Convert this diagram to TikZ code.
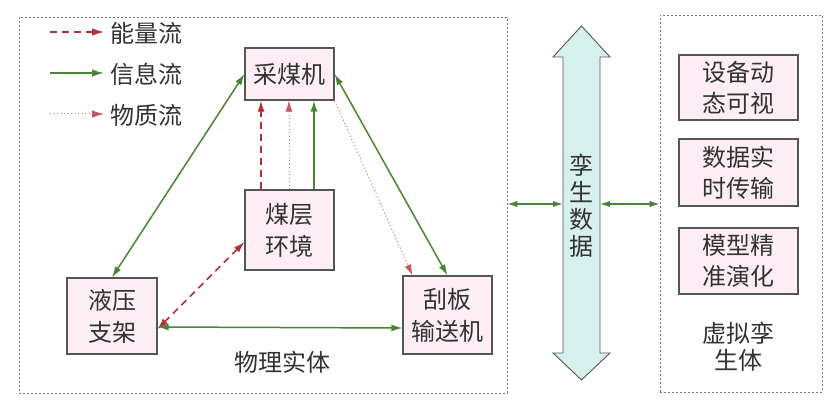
\documentclass[tikz,border=0pt]{standalone}
\usepackage{fontspec}
\setmainfont{Noto Sans CJK SC}
\usetikzlibrary{arrows.meta}
\definecolor{flowgreen}{RGB}{75,132,55}
\definecolor{flowred}{RGB}{180,45,55}
\definecolor{dotline}{RGB}{165,130,130}
\definecolor{dottip}{RGB}{200,85,95}
\definecolor{boxfill}{RGB}{253,238,245}
\definecolor{boxline}{RGB}{85,85,85}
\definecolor{txt}{RGB}{50,50,50}
\definecolor{cyanfill}{RGB}{214,240,238}
\tikzset{
  ent/.style={draw=boxline, line width=1.1pt, fill=boxfill, text=txt, inner sep=0pt,
    font=\fontsize{24}{32}\selectfont, align=center},
  frame/.style={draw=boxline!80, line width=0.6pt, dash pattern=on 2pt off 2pt, inner sep=0pt},
  lab/.style={text=txt, font=\fontsize{24}{29}\selectfont, align=center, inner sep=0pt},
  energy/.style={draw=flowred, line width=1.5pt, dash pattern=on 7pt off 5pt},
  info/.style={draw=flowgreen, line width=1.5pt},
  matter/.style={draw=dotline, line width=1pt, dash pattern=on 1pt off 2.5pt},
  tip/.tip={Latex[length=11pt,width=7pt]},
  dtip/.tip={Latex[length=11pt,width=7pt,color=dottip]},
}
\begin{document}
\begin{tikzpicture}[x=1pt,y=-1pt]
\useasboundingbox (0,0) rectangle (839,404);
\fill[white] (0,0) rectangle (839,404);
% frames
\node[frame, minimum width=488pt, minimum height=376pt] (lframe) at (263,205) {};
\node[frame, minimum width=162pt, minimum height=377pt] (rframe) at (741,203.5) {};
% legend
\coordinate (e1) at (50,32); \coordinate (e2) at (104,32);
\coordinate (i1) at (50,73); \coordinate (i2) at (104,73);
\coordinate (m1) at (50,114); \coordinate (m2) at (104,114);
\draw[energy, -{Latex[length=12pt,width=7.5pt]}] (e1) -- (e2);
\draw[info, -{Latex[length=12pt,width=7.5pt]}] (i1) -- (i2);
\draw[matter, -{Latex[length=12pt,width=7.5pt,color=dottip]}] (m1) -- (m2);
\node[lab, anchor=west] (le) at (110,33) {能量流};
\node[lab, anchor=west] (li) at (110,74) {信息流};
\node[lab, anchor=west] (lm) at (110,115) {物质流};
% physical entities
\node[ent, minimum width=89pt, minimum height=52pt] (cm) at (289.5,74) {采煤机};
\node[ent, minimum width=89pt, minimum height=80pt] (mc) at (289.5,230) {煤层\\环境};
\node[ent, minimum width=90pt, minimum height=76pt] (hy) at (112,316) {液压\\支架};
\node[ent, minimum width=89pt, minimum height=78pt] (gb) at (447.5,315) {刮板\\输送机};
\node[lab] (wl) at (282,362) {物理实体};
% connectors
\draw[energy, -tip] (mc.north -| 261,0) -- (cm.south -| 261,0);
\draw[matter, -dtip] (mc.north -| 289,0) -- (cm.south -| 289,0);
\draw[info, -tip] (mc.north -| 314,0) -- (cm.south -| 314,0);
\draw[info, tip-tip] (hy.north) -- (cm.west);
\draw[info, tip-tip] (cm.east) -- (gb.north);
\draw[matter, -dtip] (cm.south east) -- ([xshift=10pt]gb.north west);
\draw[energy, tip-tip] ([yshift=-12pt]mc.west) -- ([yshift=-13pt]hy.east);
\draw[info, tip-tip] ([yshift=-11pt]hy.east) -- ([yshift=-13pt]gb.west);
% twin data arrow
\draw[draw=boxline, line width=0.9pt, fill=cyanfill, line join=miter]
  (581.5,26) -- (610,57) -- (600,57) -- (600,353) -- (610,353) -- (581.5,380)
  -- (553,353) -- (563,353) -- (563,57) -- (553,57) -- cycle;
\coordinate (shL) at (563,204);
\coordinate (shR) at (600,204);
\node[lab, font=\fontsize{24}{27}\selectfont] (td) at (581.5,206) {孪\\生\\数\\据};
\draw[info, {Latex[length=10pt,width=6.5pt]}-{Latex[length=10pt,width=6.5pt]}] (lframe.east |- shL) -- (shL);
\draw[info, {Latex[length=10pt,width=6.5pt]}-{Latex[length=10pt,width=6.5pt]}] (shR) -- (rframe.west |- shR);
% virtual twin
\node[ent, minimum width=119pt, minimum height=65pt, font=\fontsize{24}{31}\selectfont] (r1) at (738.5,87.5) {设备动\\态可视};
\node[ent, minimum width=119pt, minimum height=67pt, font=\fontsize{24}{31}\selectfont] (r2) at (738.5,172.5) {数据实\\时传输};
\node[ent, minimum width=119pt, minimum height=66pt, font=\fontsize{24}{31}\selectfont] (r3) at (738.5,261) {模型精\\准演化};
\node[lab, font=\fontsize{24}{27}\selectfont] (vl) at (738,347) {虚拟孪\\生体};
\end{tikzpicture}
\end{document}
